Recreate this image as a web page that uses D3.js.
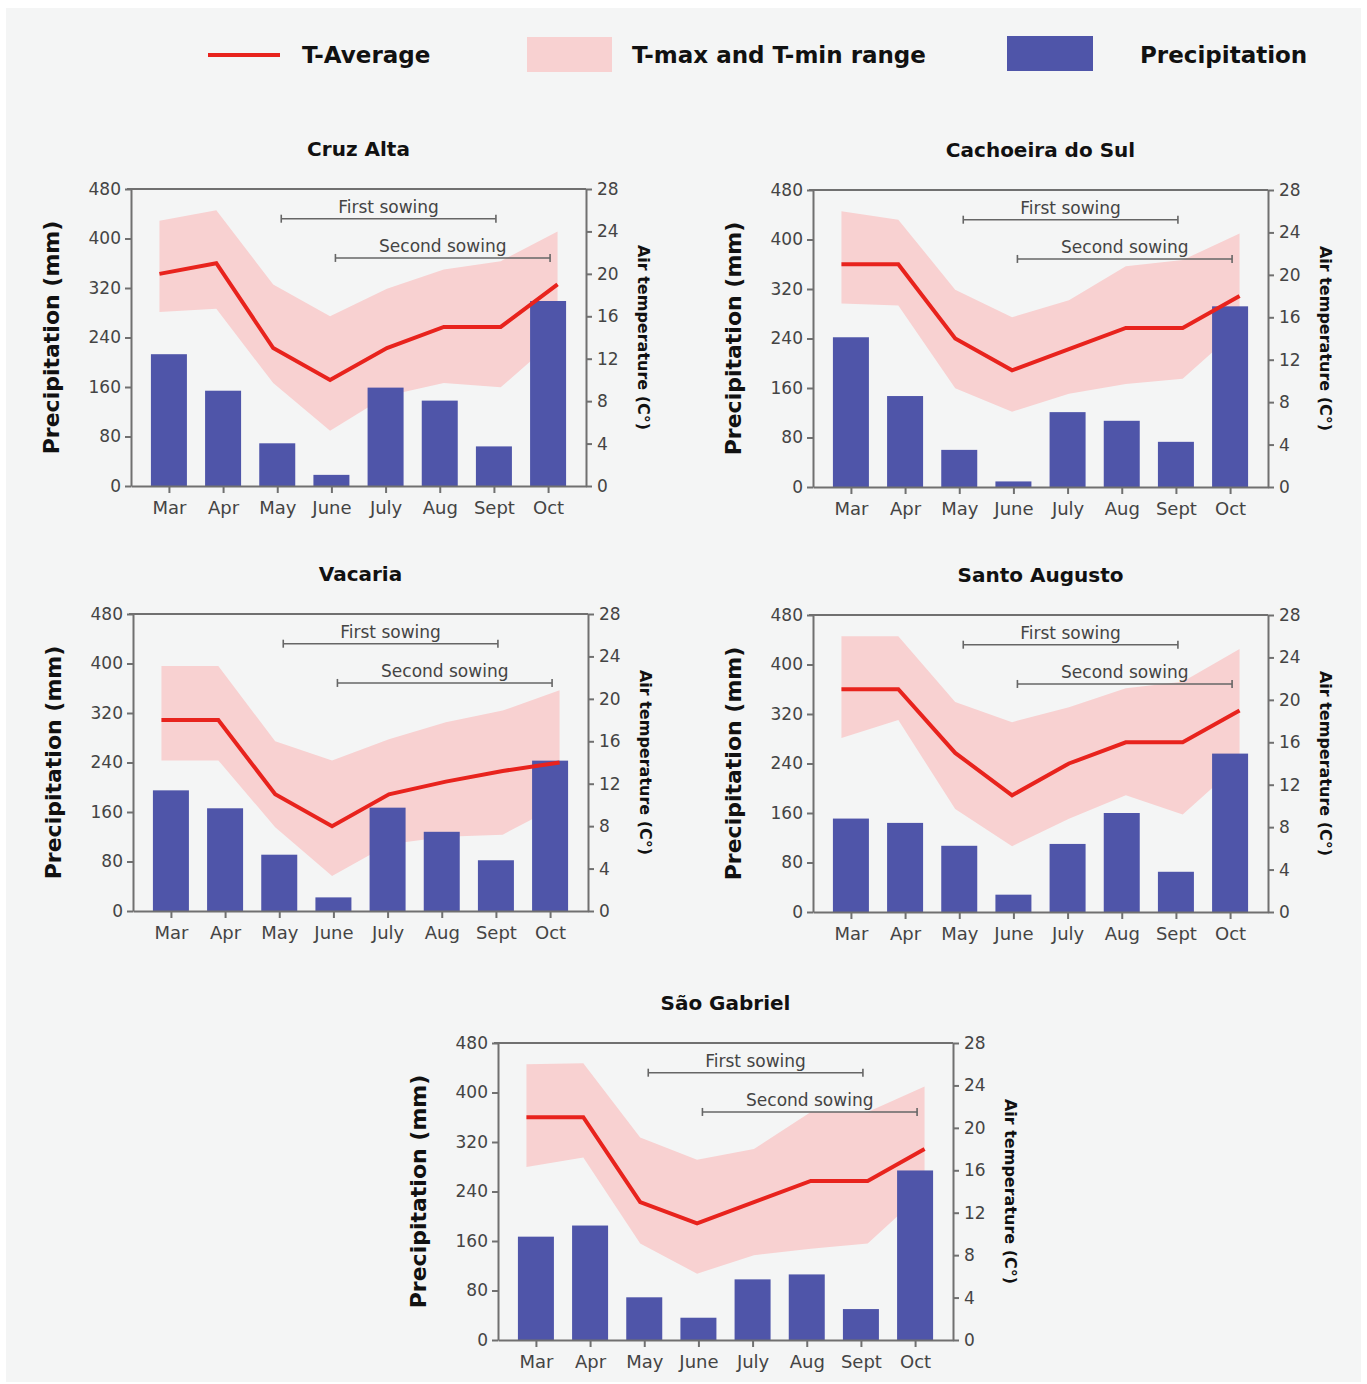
<!DOCTYPE html>
<html>
<head>
<meta charset="utf-8">
<script src="https://cdn.jsdelivr.net/npm/d3@7"></script>
<style>
  body { margin: 0; background: #fff; }
  text { font-family: "DejaVu Sans", sans-serif; }
</style>
</head>
<body>
<script>
// months on the x axis
const months = ["Mar", "Apr", "May", "June", "July", "Aug", "Sept", "Oct"];
const precipTicks = [0, 80, 160, 240, 320, 400, 480];
const tempTicks = [0, 4, 8, 12, 16, 20, 24, 28];

// Cruz Alta
const cruzPrecip = [213, 154, 69, 18, 159, 138, 64, 299];
const cruzAvg = [20, 21, 13, 10, 13, 15, 15, 19];
const cruzMax = [25, 26, 19, 16, 18.6, 20.4, 21.2, 24];
const cruzMin = [16.4, 16.7, 9.7, 5.2, 8.5, 9.7, 9.3, 14];

// Cachoeira do Sul
const cachPrecip = [242, 147, 60, 9, 121, 107, 73, 292];
const cachAvg = [21, 21, 14, 11, 13, 15, 15, 18];
const cachMax = [26, 25.2, 18.6, 16, 17.6, 20.8, 21.4, 23.9];
const cachMin = [17.3, 17.1, 9.3, 7.1, 8.8, 9.7, 10.2, 15];

// Vacaria
const vacPrecip = [195, 166, 91, 22, 167, 128, 82, 243];
const vacAvg = [18, 18, 11, 8, 11, 12.2, 13.2, 14];
const vacMax = [23.1, 23.1, 16, 14.2, 16.2, 17.8, 18.9, 20.8];
const vacMin = [14.2, 14.2, 7.9, 3.3, 6.3, 7, 7.2, 10];

// Santo Augusto
const santoPrecip = [151, 144, 107, 28, 110, 160, 65, 256];
const santoAvg = [21, 21, 15, 11, 14, 16, 16, 19];
const santoMax = [26, 26, 19.8, 17.9, 19.3, 21.1, 21.7, 24.8];
const santoMin = [16.4, 18.1, 9.7, 6.2, 8.8, 11, 9.2, 14];

// São Gabriel
const saoPrecip = [167, 185, 69, 36, 98, 106, 50, 274];
const saoAvg = [21, 21, 13, 11, 13, 15, 15, 18];
const saoMax = [26, 26.1, 19.1, 17, 18, 21.5, 21.5, 23.9];
const saoMin = [16.3, 17.2, 9.1, 6.25, 8, 8.6, 9.1, 14];

// sowing windows (start month, end month, temperature level of the bracket)
const sowings = [
  { label: "First sowing", from: "May", to: "Sept", t: 25.2 },
  { label: "Second sowing", from: "June", to: "Oct", t: 21.5 }
];

const W = 1367, H = 1384;
const pw = 455, ph = 297;

const BLUE = "#4f55a9", PINK = "#f8d1d1", RED = "#e8231d", AXIS = "#707070", TICKTXT = "#444";

const panels = [
  { name: "Cruz Alta", x: 131, y: 189, precip: cruzPrecip, avg: cruzAvg, max: cruzMax, min: cruzMin },
  { name: "Cachoeira do Sul", x: 813, y: 190, precip: cachPrecip, avg: cachAvg, max: cachMax, min: cachMin },
  { name: "Vacaria", x: 133, y: 614, precip: vacPrecip, avg: vacAvg, max: vacMax, min: vacMin },
  { name: "Santo Augusto", x: 813, y: 615, precip: santoPrecip, avg: santoAvg, max: santoMax, min: santoMin },
  { name: "São Gabriel", x: 498, y: 1043, precip: saoPrecip, avg: saoAvg, max: saoMax, min: saoMin }
];

const svg = d3.select("body").append("svg").attr("width", W).attr("height", H);

svg.append("rect").attr("x", 6).attr("y", 8).attr("width", 1355).attr("height", 1374).attr("fill", "#f4f5f5");

/* legend */
const leg = svg.append("g");
leg.append("line").attr("x1", 208).attr("x2", 280).attr("y1", 55).attr("y2", 55)
  .attr("stroke", RED).attr("stroke-width", 4);
leg.append("text").attr("x", 302).attr("y", 63).text("T-Average");
leg.append("rect").attr("x", 527).attr("y", 37).attr("width", 85).attr("height", 35).attr("fill", PINK);
leg.append("text").attr("x", 632).attr("y", 63).text("T-max and T-min range");
leg.append("rect").attr("x", 1007).attr("y", 36).attr("width", 86).attr("height", 35).attr("fill", BLUE);
leg.append("text").attr("x", 1140).attr("y", 63).text("Precipitation");
leg.selectAll("text").attr("font-size", 23).attr("font-weight", "bold").attr("fill", "#111");

panels.forEach(p => {
  const g = svg.append("g").attr("transform", `translate(${p.x},${p.y})`);

  const x = d3.scalePoint().domain(months).range([0, pw]).padding(0.7);   // bars and ticks
  const xl = d3.scalePoint().domain(months).range([0, pw]).padding(0.5);  // temperature line/band
  const yP = d3.scaleLinear().domain([0, 480]).range([ph, 0]);
  const yT = d3.scaleLinear().domain([0, 28]).range([ph, 0]);

  const rows = months.map((m, i) => ({ m, pr: p.precip[i], avg: p.avg[i], max: p.max[i], min: p.min[i] }));

  // range band
  g.append("path").datum(rows)
    .attr("fill", PINK)
    .attr("d", d3.area().x(d => xl(d.m)).y0(d => yT(d.min)).y1(d => yT(d.max)));

  // bars
  const bw = 36;
  g.selectAll("rect.bar").data(rows).enter().append("rect")
    .attr("class", "bar")
    .attr("x", d => x(d.m) - bw / 2)
    .attr("y", d => yP(d.pr))
    .attr("width", bw)
    .attr("height", d => ph - yP(d.pr))
    .attr("fill", BLUE);

  // average line
  g.append("path").datum(rows)
    .attr("fill", "none").attr("stroke", RED).attr("stroke-width", 4)
    .attr("d", d3.line().x(d => xl(d.m)).y(d => yT(d.avg)));

  // sowing brackets
  sowings.forEach(s => {
    const x1 = x(s.from) + 4, x2 = x(s.to) + 2, yy = yT(s.t);
    const sg = g.append("g").attr("stroke", "#666").attr("stroke-width", 1.6);
    sg.append("line").attr("x1", x1).attr("x2", x2).attr("y1", yy).attr("y2", yy);
    sg.append("line").attr("x1", x1).attr("x2", x1).attr("y1", yy - 4).attr("y2", yy + 4);
    sg.append("line").attr("x1", x2).attr("x2", x2).attr("y1", yy - 4).attr("y2", yy + 4);
    g.append("text").attr("x", (x1 + x2) / 2).attr("y", yy - 6)
      .attr("text-anchor", "middle").attr("font-size", 17).attr("fill", "#444").text(s.label);
  });

  // axes
  const styleAxis = a => {
    a.selectAll("path, line").attr("stroke", AXIS).attr("stroke-width", 2);
    a.selectAll("text").attr("fill", TICKTXT).attr("font-family", "DejaVu Sans, sans-serif");
  };
  g.append("g")
    .call(d3.axisLeft(yP).tickValues(precipTicks).tickSize(6).tickSizeOuter(0).tickPadding(4))
    .attr("font-size", 17).call(styleAxis);
  g.append("g").attr("transform", `translate(${pw},0)`)
    .call(d3.axisRight(yT).tickValues(tempTicks).tickSize(6).tickSizeOuter(0).tickPadding(5))
    .attr("font-size", 17).call(styleAxis);
  g.append("g").attr("transform", `translate(0,${ph})`)
    .call(d3.axisBottom(x).tickSize(7).tickSizeOuter(0).tickPadding(8))
    .attr("font-size", 18).call(styleAxis);
  g.append("line").attr("x1", -4).attr("x2", pw).attr("y1", 0).attr("y2", 0)
    .attr("stroke", AXIS).attr("stroke-width", 2);

  // titles and axis labels
  g.append("text").attr("x", pw / 2).attr("y", -33).attr("text-anchor", "middle")
    .attr("font-size", 20).attr("font-weight", "bold").attr("fill", "#111").text(p.name);
  g.append("text").attr("transform", `translate(-80,${ph / 2}) rotate(-90)`)
    .attr("text-anchor", "middle").attr("dy", "0.35em")
    .attr("font-size", 22).attr("font-weight", "bold").attr("fill", "#111").text("Precipitation (mm)");
  g.append("text").attr("transform", `translate(${pw + 58},${ph / 2}) rotate(90)`)
    .attr("text-anchor", "middle").attr("dy", "0.35em")
    .attr("font-size", 16).attr("font-weight", "bold").attr("fill", "#111").text("Air temperature (C°)");
});
</script>
</body>
</html>
